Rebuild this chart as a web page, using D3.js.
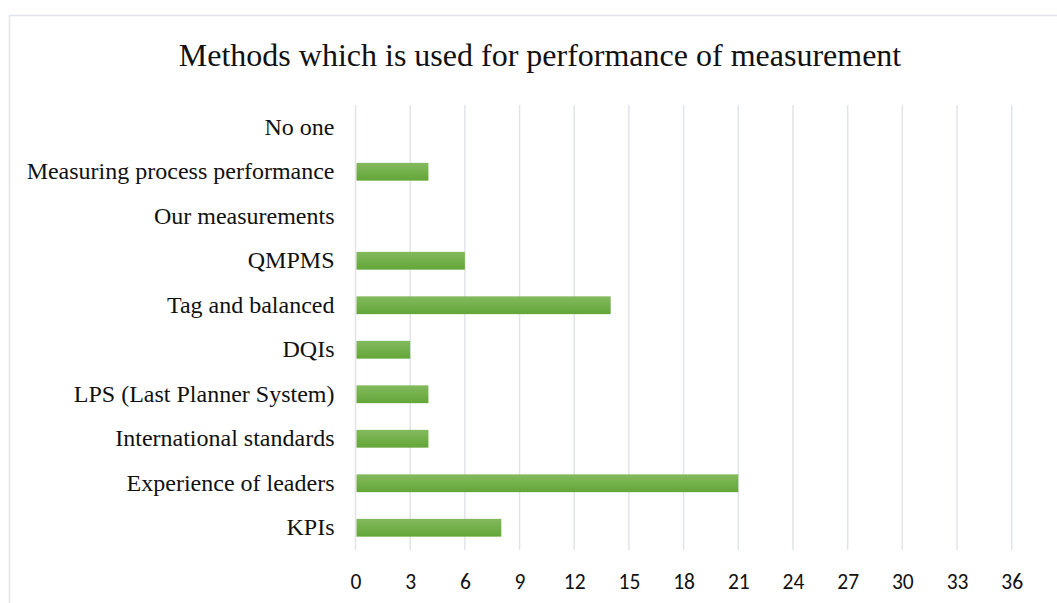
<!DOCTYPE html>
<html><head><meta charset="utf-8">
<script src="https://cdn.jsdelivr.net/npm/d3@7"></script>
<style>body{margin:0;background:#fff}svg{display:block}</style>
</head><body><svg id="c" width="1057" height="603"></svg>
<script>
const categories = ["No one","Measuring process performance","Our measurements","QMPMS","Tag and balanced","DQIs","LPS (Last Planner System)","International standards","Experience of leaders","KPIs"];
const values = [0,4,0,6,14,3,4,4,21,8];
const tickValues = [0,3,6,9,12,15,18,21,24,27,30,33,36];
const title = "Methods which is used for performance of measurement";

const svg = d3.select("#c");
const defs = svg.append("defs");
const g = defs.append("linearGradient").attr("id","bg").attr("x1",0).attr("y1",0).attr("x2",0).attr("y2",1);
g.append("stop").attr("offset","0%").attr("stop-color","#83ba5e");
g.append("stop").attr("offset","100%").attr("stop-color","#63a638");

svg.append("rect").attr("x",9.5).attr("y",15.5).attr("width",1100).attr("height",700)
  .attr("fill","#fff").attr("stroke","#e1e4ea").attr("stroke-width",1.5);

svg.append("text").attr("x",540).attr("y",66).attr("text-anchor","middle")
  .attr("font-family","'Liberation Serif','Times New Roman',serif").attr("font-size",32).attr("fill","#111").text(title);

const x = d3.scaleLinear().domain([0,36]).range([355.5,1011.7]);
const y = d3.scaleBand().domain(categories).range([105,550]).paddingInner(0.6).paddingOuter(0.3);

const grid = svg.append("g");
grid.selectAll("line").data(tickValues).join("line")
  .attr("x1",d=>x(d)).attr("x2",d=>x(d)).attr("y1",105).attr("y2",550)
  .attr("stroke","#e1e4ea").attr("stroke-width",1.5);

const xAxis = svg.append("g").attr("transform","translate(0,550)")
  .call(d3.axisBottom(x).tickValues(tickValues).tickSize(0).tickPadding(24));
xAxis.select(".domain").remove();
xAxis.selectAll("text").attr("font-family","Carlito,'Open Sans','Liberation Sans',sans-serif").attr("font-size",21.5).attr("fill","#111");

const yAxis = svg.append("g").attr("transform","translate(355.5,0)")
  .call(d3.axisLeft(y).tickSize(0).tickPadding(21));
yAxis.select(".domain").remove();
yAxis.selectAll("text").attr("font-family","'Liberation Serif','Times New Roman',serif").attr("font-size",24).attr("fill","#111");

svg.append("g").selectAll("rect").data(categories).join("rect")
  .attr("x",x(0)+1).attr("y",d=>y(d)).attr("height",y.bandwidth())
  .attr("width",(d,i)=>Math.max(0,x(values[i])-x(0)-1))
  .attr("fill","url(#bg)");
</script></body></html>
